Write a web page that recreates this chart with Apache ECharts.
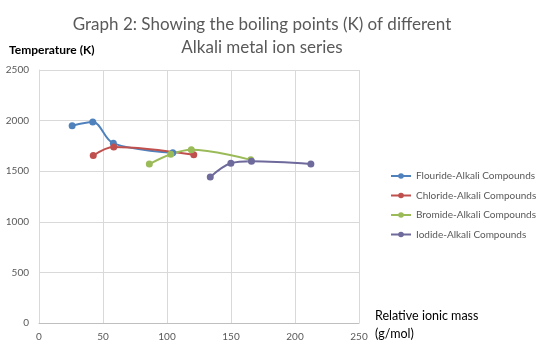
<!DOCTYPE html>
<html>
<head>
<meta charset="utf-8">
<script src="https://cdn.jsdelivr.net/npm/echarts@6/dist/echarts.min.js"></script>
<style>
html,body{margin:0;padding:0;background:#fff;}
#c{width:540px;height:350px;}
</style>
</head>
<body>
<div id="c"></div>
<script>
const seriesNames = ['Flouride-Alkali Compounds','Chloride-Alkali Compounds','Bromide-Alkali Compounds','Iodide-Alkali Compounds'];
const fluorideMass = [25.9, 42.0, 58.1, 104.5];
const fluorideBP   = [1949, 1985, 1775, 1683];
const chlorideMass = [42.4, 58.4, 120.9];
const chlorideBP   = [1655, 1740, 1663];
const bromideMass  = [86.2, 102.9, 119.0, 165.4];
const bromideBP    = [1570, 1668, 1712, 1612];
const iodideMass   = [133.8, 149.9, 166.0, 212.4];
const iodideBP     = [1443, 1579, 1599, 1572];
const colors = ['#4F81BD','#C0504D','#9BBB59','#6E6A9C'];

function pairs(xs, ys){ return xs.map((x,i)=>[x, ys[i]]); }
const seriesData = [
  pairs(fluorideMass, fluorideBP),
  pairs(chlorideMass, chlorideBP),
  pairs(bromideMass, bromideBP),
  pairs(iodideMass, iodideBP)
];

const FONT = 'Lato';
const chart = echarts.init(document.getElementById('c'), null, {renderer:'canvas'});
chart.setOption({
  animation:false,
  color: colors,
  title:{
    text:'Graph 2: Showing the boiling points (K) of different\nAlkali metal ion series',
    left:257, top:8, textAlign:'center',
    textStyle:{fontFamily:FONT, fontSize:17, fontWeight:'normal', color:'#595959', lineHeight:23}
  },
  legend:{
    orient:'vertical', left:385, top:166,
    itemWidth:20, itemHeight:7, itemGap:9.5,
    textStyle:{fontFamily:FONT, fontSize:10, color:'#595959', width:130, overflow:'none'},
    data: seriesNames
  },
  grid:{left:39, right:181, top:70, bottom:27, containLabel:false},
  xAxis:{
    type:'value', min:0, max:250, interval:50,
    axisLine:{show:true, lineStyle:{color:'#BFBFBF'}},
    axisTick:{show:false},
    axisLabel:{fontFamily:FONT, fontSize:10, color:'#595959', margin:9},
    splitLine:{show:true, lineStyle:{color:'#D9D9D9'}}
  },
  yAxis:{
    type:'value', min:0, max:2500, interval:500,
    axisLine:{show:true, lineStyle:{color:'#D9D9D9'}},
    axisTick:{show:false},
    axisLabel:{fontFamily:FONT, fontSize:10, color:'#595959', margin:10, formatter:v=>String(v)},
    splitLine:{show:true, lineStyle:{color:'#D9D9D9'}}
  },
  graphic:[
    {type:'text', left:9, top:44, style:{text:'Temperature (K)', fontFamily:FONT, fontSize:12, fontWeight:'bold', fill:'#000'}},
    {type:'text', left:375, top:307, style:{text:'Relative ionic mass\n(g/mol)', fontFamily:FONT, fontSize:12.5, lineHeight:18, fill:'#000'}}
  ],
  series: seriesData.map((d,i)=>({
    name: seriesNames[i], type:'line', data:d, smooth:0.35,
    symbol:'circle', symbolSize:7,
    lineStyle:{width:2, color:colors[i]},
    itemStyle:{color:colors[i]}
  }))
});
</script>
</body>
</html>
